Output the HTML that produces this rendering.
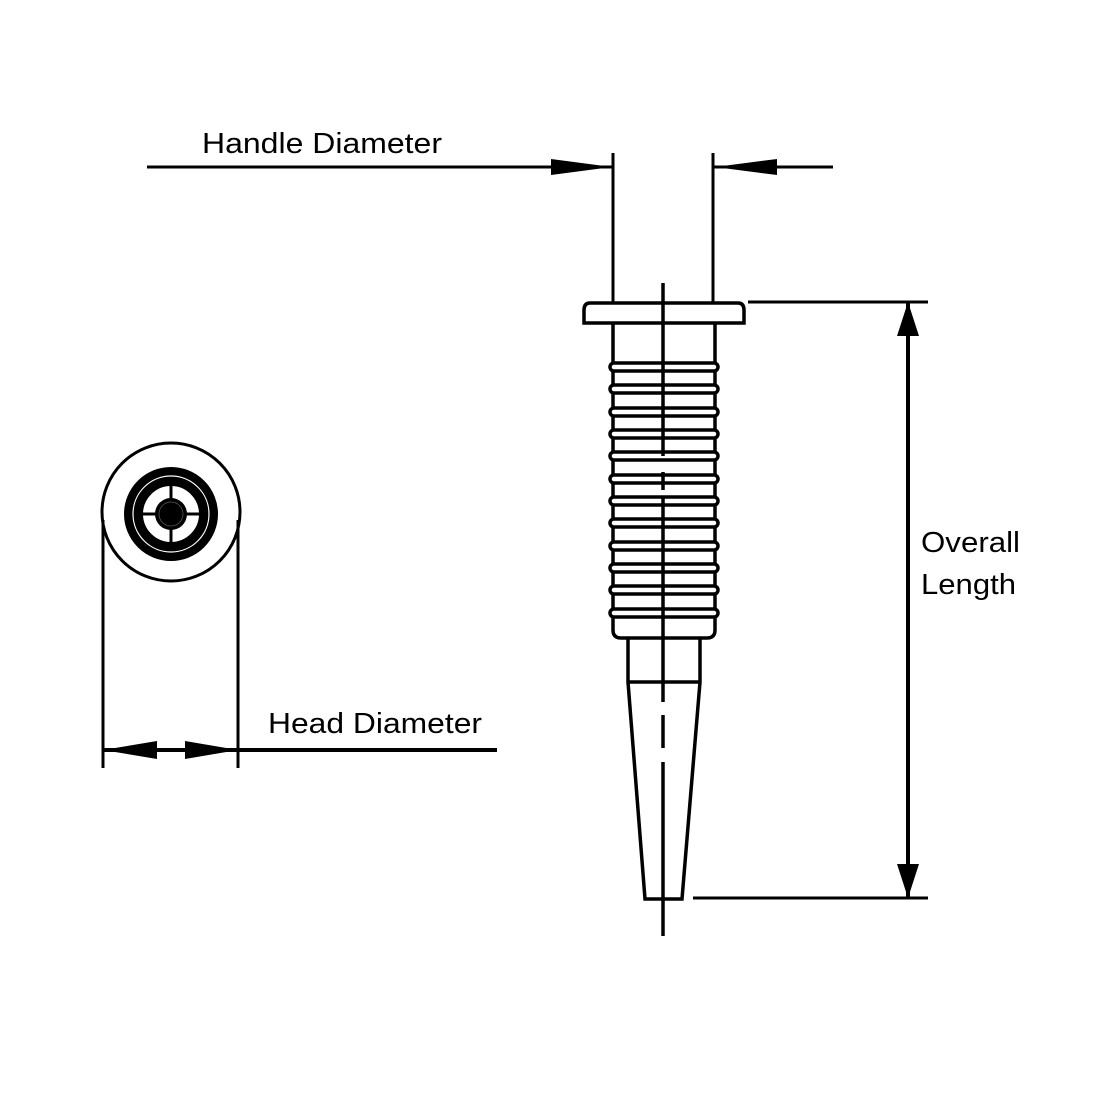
<!DOCTYPE html>
<html><head><style>html,body{margin:0;padding:0;background:#fff}svg{display:block}</style></head>
<body>
<svg width="1100" height="1100" viewBox="0 0 1100 1100" xmlns="http://www.w3.org/2000/svg">
<rect width="1100" height="1100" fill="#fff"/>
<g font-family="Liberation Sans, sans-serif" font-size="29" fill="#000">
<text x="202" y="153" textLength="240" lengthAdjust="spacingAndGlyphs">Handle Diameter</text>
<text x="268" y="733" textLength="214" lengthAdjust="spacingAndGlyphs">Head Diameter</text>
<text x="921" y="552" textLength="99" lengthAdjust="spacingAndGlyphs">Overall</text>
<text x="921" y="594" textLength="95" lengthAdjust="spacingAndGlyphs">Length</text>
</g>
<g stroke="#000" fill="none" stroke-width="3">
<line x1="147" y1="167" x2="612" y2="167"/>
<line x1="713" y1="167" x2="833" y2="167"/>
<line x1="613" y1="153" x2="613" y2="303"/>
<line x1="713" y1="153" x2="713" y2="303"/>
<line x1="748" y1="302" x2="928" y2="302"/>
<line x1="693" y1="898" x2="928" y2="898"/>
<line x1="908" y1="302" x2="908" y2="898" stroke-width="4"/>
<line x1="103" y1="520" x2="103" y2="768"/>
<line x1="238" y1="520" x2="238" y2="768"/>
<line x1="103" y1="750" x2="497" y2="750" stroke-width="4"/>
<circle cx="171" cy="512" r="69"/>
</g>
<g fill="#000">
<polygon points="612,167 551,159 551,175"/>
<polygon points="715,167 777,159 777,175"/>
<polygon points="908,302 897,336 919,336"/>
<polygon points="908,898 897,864 919,864"/>
<polygon points="103,750 157,741 157,759"/>
<polygon points="238,750 185,741 185,759"/>
</g>
<circle cx="171" cy="514" r="37.5" fill="none" stroke="#000" stroke-width="19"/>
<circle cx="171" cy="514" r="38" fill="none" stroke="#fff" stroke-width="1.2"/>
<g stroke="#000" stroke-width="3">
<line x1="143" y1="514" x2="199" y2="514"/>
<line x1="171" y1="486" x2="171" y2="542"/>
</g>
<circle cx="171" cy="514" r="16" fill="#000"/>
<circle cx="171" cy="514" r="12" fill="none" stroke="#555" stroke-width="0.8"/>
<g stroke="#000" fill="none" stroke-width="3.5">
<path d="M590,303 H738 Q744,303 744,310 V323 H584 V310 Q584,303 590,303 Z" fill="#fff"/>
<path d="M613,323 V630 Q613,638 621,638 H707 Q715,638 715,630 V323"/>
<path d="M628,638 V682 L645,899 H682 L700,682 V638"/>
<line x1="628" y1="682" x2="700" y2="682"/>
</g>
<g stroke="#000" stroke-width="3.5" fill="#fff">
<rect x="610" y="363" width="108" height="8" rx="4"/>
<rect x="610" y="385" width="108" height="8" rx="4"/>
<rect x="610" y="408" width="108" height="8" rx="4"/>
<rect x="610" y="430" width="108" height="8" rx="4"/>
<rect x="610" y="452" width="108" height="8" rx="4"/>
<rect x="610" y="475" width="108" height="8" rx="4"/>
<rect x="610" y="497" width="108" height="8" rx="4"/>
<rect x="610" y="519" width="108" height="8" rx="4"/>
<rect x="610" y="542" width="108" height="8" rx="4"/>
<rect x="610" y="564" width="108" height="8" rx="4"/>
<rect x="610" y="586" width="108" height="8" rx="4"/>
<rect x="610" y="609" width="108" height="8" rx="4"/>
</g>
<g stroke="#000" stroke-width="3.5">
<line x1="663" y1="283" x2="663" y2="456"/>
<line x1="663" y1="472" x2="663" y2="490"/>
<line x1="663" y1="498" x2="663" y2="702"/>
<line x1="663" y1="715" x2="663" y2="748"/>
<line x1="663" y1="762" x2="663" y2="936"/>
</g>
</svg>
</body></html>
